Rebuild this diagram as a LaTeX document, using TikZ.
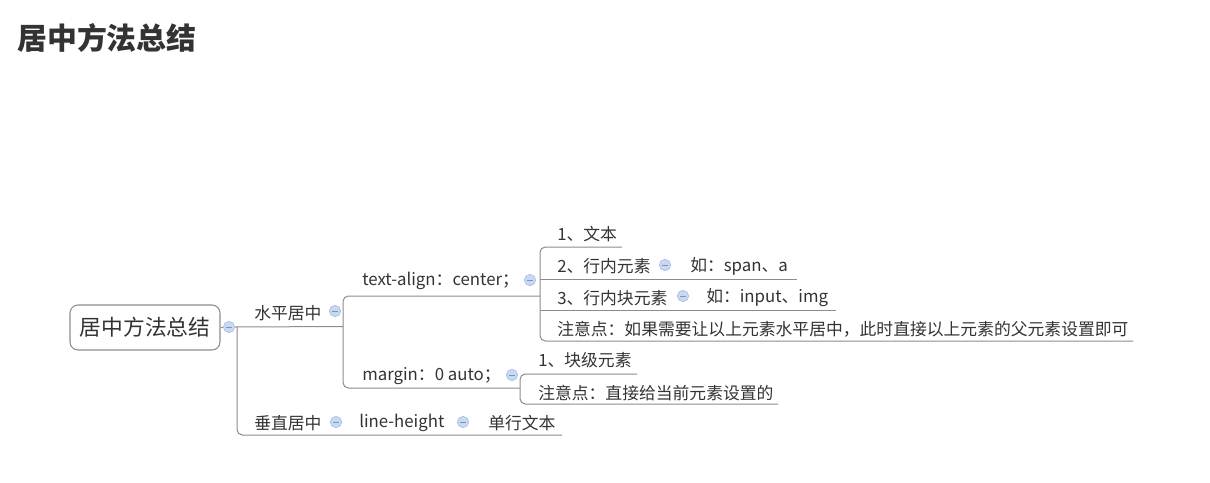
\documentclass[tikz,border=0pt]{standalone}
\usepackage{fontspec}
\setmainfont{Noto Sans CJK SC}
\definecolor{txt}{HTML}{333333}
\definecolor{ln}{HTML}{8C8C8C}
\definecolor{btnfill}{HTML}{C9D9F4}
\definecolor{btndraw}{HTML}{A9BFE6}
\definecolor{btnminus}{HTML}{7F93B8}
\tikzset{
  topic/.style={anchor=west, inner sep=0pt, yshift=-1.5pt, text=txt, font=\fontsize{12.6pt}{14pt}\selectfont},
  rootbox/.style={draw=ln, line width=0.8pt, rounded corners=6pt, minimum width=112.5pt, minimum height=33.75pt, text=txt, font=\fontsize{16.3pt}{18pt}\selectfont, inner sep=0pt},
  btn/.style={circle, draw=btndraw, fill=btnfill, line width=0.5pt, minimum size=8.5pt, inner sep=0pt,
    path picture={\draw[btnminus, line width=0.6pt] ([xshift=-2pt]path picture bounding box.center) -- ([xshift=2pt]path picture bounding box.center);}},
  conn/.style={draw=ln, line width=0.75pt},
  rconn/.style={conn, rounded corners=4pt}
}
\begin{document}
\begin{tikzpicture}[x=0.75pt, y=-0.75pt]
\useasboundingbox (0,0) rectangle (1210,482);
% title
\node[anchor=west, inner sep=0pt, text=txt, font=\fontsize{22.4pt}{24pt}\selectfont\bfseries] (title) at (17,38) {居中方法总结};
% root
\node[rootbox] (root) at (145,327.5) {居中方法总结};
\node[btn] (rootbtn) at (229,327) {};
% level 1
\node[topic] (hz) at (254,311) {水平居中};
\node[btn] (hzbtn) at (335,311) {};
\node[topic] (vt) at (254,421) {垂直居中};
\node[btn] (vtbtn) at (336,422) {};
\node[topic] (lh) at (359,421) {line-height};
\node[btn] (lhbtn) at (463,422) {};
\node[topic] (single) at (488,421) {单行文本};
% level 2
\node[topic] (ta) at (362,279) {text-align：center；};
\node[btn] (tabtn) at (530,280) {};
\node[topic] (mg) at (362,374) {margin：0 auto；};
\node[btn] (mgbtn) at (512,375) {};
% level 3 (text-align)
\node[topic] (t1) at (557,232) {1、文本};
\node[topic] (t2) at (557,264) {2、行内元素};
\node[btn] (t2btn) at (665,265) {};
\node[topic] (t2a) at (690,264) {如：span、a};
\node[topic] (t3) at (557,296) {3、行内块元素};
\node[btn] (t3btn) at (683,296) {};
\node[topic] (t3a) at (706,296) {如：input、img};
\node[topic] (t4) at (557,327) {注意点：如果需要让以上元素水平居中，此时直接以上元素的父元素设置即可};
% level 3 (margin)
\node[topic] (m1) at (538,358) {1、块级元素};
\node[topic] (m2) at (538,391) {注意点：直接给当前元素设置的};
% coordinates
\coordinate (rj) at (237,326.5);
\coordinate (hzj) at (343,326.5);
\coordinate (vtend) at (562,435);
\coordinate (taend) at (540,296);
\coordinate (mgend) at (520,388);
\coordinate (t1end) at (622,247);
\coordinate (t2s) at (540,279);
\coordinate (t2end) at (797,279);
\coordinate (t3s) at (540,310);
\coordinate (t3end) at (836,310);
\coordinate (t4end) at (1133,341);
\coordinate (m1end) at (637,374);
\coordinate (m2end) at (778,404);
% connectors
\draw[conn] (root.east) -- (root.east -| rootbtn.west);
\draw[conn] (rootbtn.east) -- (hzj);
\draw[rconn] (rj) |- (vtend);
\draw[rconn] (taend) -- (taend -| hzj) -- (mgend -| hzj) -- (mgend);
\draw[rconn] (t1end) -- (t1end -| taend) -- (t4end -| taend) -- (t4end);
\draw[conn] (t2s) -- (t2end);
\draw[conn] (t3s) -- (t3end);
\draw[rconn] (m1end) -- (m1end -| mgend) -- (m2end -| mgend) -- (m2end);
\end{tikzpicture}
\end{document}
